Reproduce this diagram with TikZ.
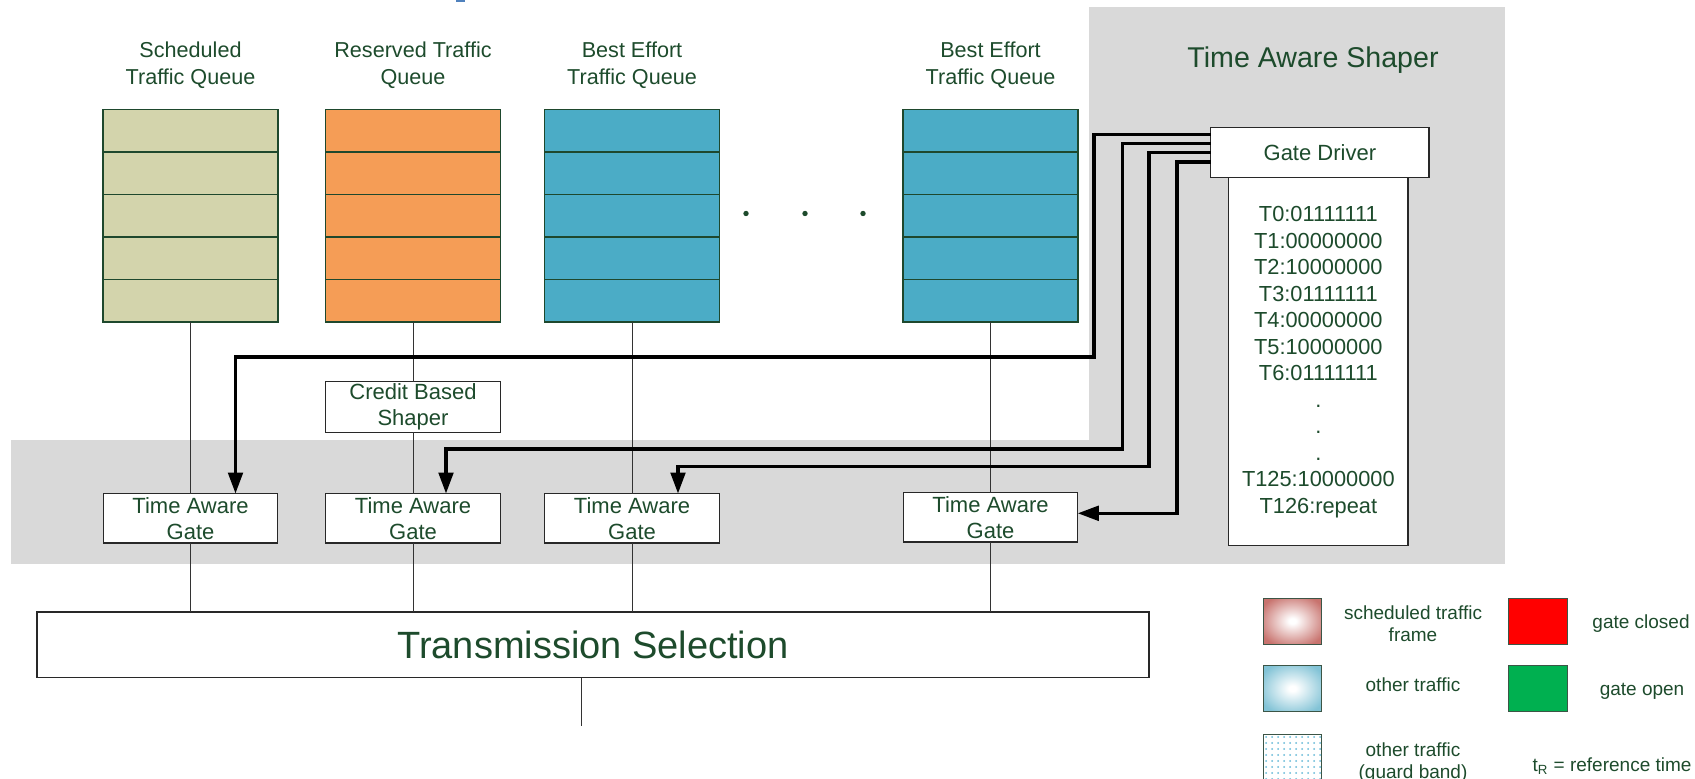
\documentclass[tikz,border=0pt]{standalone}
\usepackage{fontspec}
\setmainfont{Liberation Sans}
\usetikzlibrary{arrows.meta,patterns,calc}
\definecolor{txt}{RGB}{29,75,44}
\definecolor{bandgray}{RGB}{217,217,217}
\definecolor{qone}{RGB}{211,212,172}
\definecolor{qtwo}{RGB}{245,157,86}
\definecolor{qthree}{RGB}{75,172,198}
\definecolor{qline}{RGB}{30,72,45}
\definecolor{boxline}{RGB}{40,40,40}
\definecolor{pinkc}{RGB}{200,115,110}
\definecolor{lblue}{RGB}{130,195,214}
\definecolor{dotblue}{RGB}{100,185,215}
\definecolor{gclosed}{RGB}{255,0,0}
\definecolor{gopen}{RGB}{0,176,80}
\definecolor{legline}{RGB}{60,85,70}
\definecolor{fragblue}{RGB}{79,129,189}
\pgfdeclareradialshading{legpink}{\pgfpoint{0bp}{0bp}}{color(0bp)=(white); color(3bp)=(white); color(30bp)=(pinkc); color(100bp)=(pinkc)}
\pgfdeclareradialshading{legblue}{\pgfpoint{0bp}{0bp}}{color(0bp)=(white); color(3bp)=(white); color(30bp)=(lblue); color(100bp)=(lblue)}
\begin{document}
\begin{tikzpicture}[x=0.5pt,y=-0.5pt,
  every node/.style={inner sep=0pt,outer sep=0pt,text=txt},
  queue/.style={draw=qline,line width=0.6pt,minimum width=87.5pt,minimum height=106.25pt},
  rowline/.style={draw=qline,line width=0.6pt},
  gatebox/.style={draw=boxline,fill=white,line width=0.55pt,minimum width=87.25pt,minimum height=24.75pt,align=center,font=\fontsize{11}{13}\selectfont},
  qtitle/.style={align=center,font=\fontsize{10.8}{13.5}\selectfont},
  conn/.style={draw=black!80,line width=0.5pt},
  ctl/.style={draw=black,line width=1.65pt,-{Triangle[length=10.5pt,width=7.3pt]}},
  legbox/.style={draw=legline,line width=0.5pt,minimum width=29.2pt,minimum height=23pt},
  legtext/.style={align=center,font=\fontsize{9.5}{11}\selectfont}
]
\useasboundingbox (0,0) rectangle (1695,779);
\clip (0,0) rectangle (1695,779);

% background regions
\fill[fragblue] (456,0) rectangle (465,2.5);
\fill[bandgray] (1089,7.5) rectangle (1505,440);
\fill[bandgray] (11,440) rectangle (1505,564.3);

% titles
\node[qtitle] (t1) at (190.5,65) {Scheduled\\Traffic Queue};
\node[qtitle] (t2) at (413,65) {Reserved Traffic\\Queue};
\node[qtitle] (t3) at (632,65) {Best Effort\\Traffic Queue};
\node[qtitle] (t4) at (990.5,65) {Best Effort\\Traffic Queue};
\node[font=\fontsize{14.3}{17}\selectfont] (tas) at (1313,60.5) {Time Aware Shaper};

% queues
\node[queue,fill=qone] (q1) at (190.5,215.75) {};
\node[queue,fill=qtwo] (q2) at (413,215.75) {};
\node[queue,fill=qthree] (q3) at (632,215.75) {};
\node[queue,fill=qthree] (q4) at (990.5,215.75) {};
\foreach \q in {q1,q2,q3,q4}{
  \foreach \k in {0.2,0.4,0.6,0.8}{
    \draw[rowline] ($(\q.north west)!\k!(\q.south west)$) -- ($(\q.north east)!\k!(\q.south east)$);
  }
}
\foreach \x in {746,805,863} \fill[txt] (\x,213.5) circle (2.7);

% gate driver and list
\node[draw=boxline,fill=white,line width=0.6pt,minimum width=89.65pt,minimum height=183.9pt] (lst) at (1318.35,361.6) {};
\node[align=center,font=\fontsize{10.9}{13.25}\selectfont] (lsttxt) at (1318.35,362)
  {T0:01111111\\T1:00000000\\T2:10000000\\T3:01111111\\T4:00000000\\T5:10000000\\T6:01111111\\.\\.\\.\\T125:10000000\\T126:repeat};
\node[draw=boxline,fill=white,line width=0.6pt,minimum width=109.15pt,minimum height=25pt,
      font=\fontsize{11}{13}\selectfont] (gd) at (1319.85,152.7) {Gate Driver};

% shaper and gates
\node[gatebox,minimum width=87.75pt,minimum height=25.15pt] (cbs) at (413,407) {Credit Based\\Shaper};
\node[gatebox] (g1) at (190.5,518.3) {Time Aware\\Gate};
\node[gatebox] (g2) at (413,518.3) {Time Aware\\Gate};
\node[gatebox] (g3) at (632,518.3) {Time Aware\\Gate};
\node[gatebox] (g4) at (990.5,517.3) {Time Aware\\Gate};

% transmission selection
\node[draw=boxline,fill=white,line width=0.6pt,minimum width=556pt,minimum height=32.75pt,
      font=\fontsize{19}{23}\selectfont] (ts) at (593,644.75) {Transmission Selection};
\coordinate (out) at (581,726);

% thin connectors
\draw[conn] (q1.south) -- (g1.north);
\draw[conn] (g1.south) -- (g1.south |- ts.north);
\draw[conn] (q2.south) -- (cbs.north);
\draw[conn] (cbs.south) -- (g2.north);
\draw[conn] (g2.south) -- (g2.south |- ts.north);
\draw[conn] (q3.south) -- (g3.north);
\draw[conn] (g3.south) -- (g3.south |- ts.north);
\draw[conn] (q4.south) -- (g4.north);
\draw[conn] (g4.south) -- (g4.south |- ts.north);
\draw[conn] (out |- ts.south) -- (out);

% control arrows
\coordinate (s1) at ($(gd.west)+(0,-18)$);
\coordinate (s2) at ($(gd.west)+(0,-9)$);
\coordinate (s3) at (gd.west);
\coordinate (s4) at ($(gd.west)+(0,9.3)$);
\coordinate (e4) at ($(g4.east)+(0,-4)$);
\draw[ctl] (s1) -| (1094,357) -| ($(g1.north)+(45,0)$);
\draw[ctl] (s2) -| (1122.7,449) -| ($(g2.north)+(33,0)$);
\draw[ctl] (s3) -| (1149,466.5) -| ($(g3.north)+(46,0)$);
\draw[ctl] (s4) -| (1177,513.3) -- (e4);

% legend
\node[legbox,shade,shading=legpink] (la) at (1292.5,621) {};
\node[legbox,shade,shading=legblue] (lb) at (1292.5,688.5) {};
\node[legbox,fill=white] (lc) at (1292.5,757.5) {};
\fill[pattern=dots,pattern color=dotblue] (lc.south west) rectangle (lc.north east);
\node[legbox,fill=gclosed] (ld) at (1538,621) {};
\node[legbox,fill=gopen] (le) at (1538,688.5) {};
\node[legtext] (lta) at (1413,623.5) {scheduled traffic\\frame};
\node[legtext] (ltb) at (1413,684.5) {other traffic};
\node[legtext] (ltc) at (1413,763) {other traffic\\(guard band)};
\node[legtext] (ltd) at (1641,623.5) {gate closed};
\node[legtext] (lte) at (1642,691.5) {gate open};
\node[legtext] (ltf) at (1612,766.5) {t\textsubscript{R} = reference time};
\end{tikzpicture}
\end{document}
